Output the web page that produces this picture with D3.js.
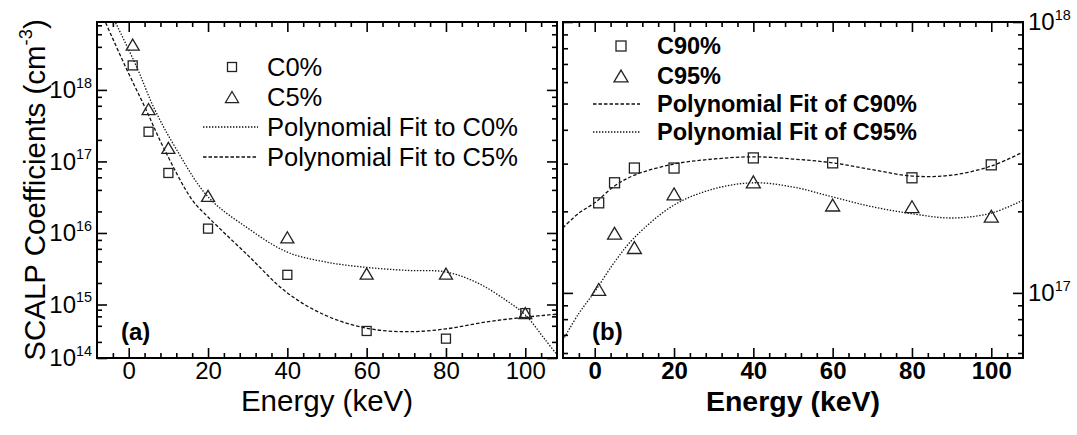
<!DOCTYPE html>
<html>
<head>
<meta charset="utf-8">
<script src="https://cdn.jsdelivr.net/npm/d3@7"></script>
<style>
  body { margin: 0; background: #fff; }
  svg text { font-family: "Liberation Sans", Arial, sans-serif; fill: #000; }
</style>
</head>
<body>
<script>
// ---- values ----
// panel (a)
var energyA = [1, 5, 10, 20, 40, 60, 80, 100];
var c0 = [2.2e18, 2.6e17, 6.9e16, 1.15e16, 2.6e15, 3.2e14, 2.3e14, 6.9e14];
var c5 = [4.3e18, 5.4e17, 1.55e17, 3.3e16, 8.7e15, 2.7e15, 2.7e15, 6.9e14];
// fit curves as drawn (legend names kept as in the figure)
var fitC0E = [-3.3, 2, 6.5, 11.8, 20, 30, 40, 50, 60, 70, 80, 88, 95, 100, 105, 108];
var fitC0V = [8.65e18, 2.1e18, 5.4e17, 1.55e17, 3.2e16, 1.17e16, 5.4e15, 3.9e15, 3.3e15, 3.0e15, 2.85e15, 2.0e15, 1.16e15, 6.4e14, 2.2e14, 1.15e14];
var fitC5E = [-5.8, -0.8, 4.3, 8.8, 16, 20, 30, 40, 50, 60, 70, 80, 90, 100, 108];
var fitC5V = [8.65e18, 2.1e18, 5.4e17, 1.55e17, 2.9e16, 1.67e16, 4.9e15, 1.45e15, 6.1e14, 3.6e14, 3.1e14, 3.5e14, 4.7e14, 5.8e14, 6.6e14];

// panel (b)
var energyB = [1, 5, 10, 20, 40, 60, 80, 100];
var c90 = [2.15e17, 2.55e17, 2.89e17, 2.89e17, 3.15e17, 3.02e17, 2.66e17, 2.97e17];
var c95 = [1.03e17, 1.66e17, 1.47e17, 2.32e17, 2.57e17, 2.11e17, 2.08e17, 1.92e17];
var fitBE = [-8, -4, 0, 5, 10, 20, 30, 40, 50, 60, 70, 80, 90, 100, 108];
var fitC90V = [1.74e17, 1.97e17, 2.15e17, 2.48e17, 2.72e17, 2.99e17, 3.12e17, 3.18e17, 3.12e17, 3.02e17, 2.85e17, 2.70e17, 2.72e17, 2.94e17, 3.31e17];
var fitC95V = [6.7e16, 8.4e16, 1.01e17, 1.30e17, 1.60e17, 2.11e17, 2.42e17, 2.55e17, 2.46e17, 2.26e17, 2.08e17, 1.96e17, 1.89e17, 1.97e17, 2.20e17];

// ticks and labels
var xTicks = [0, 20, 40, 60, 80, 100];
var yTicksA = [1e14, 1e15, 1e16, 1e17, 1e18];
var yTicksB = [1e17, 1e18];
var legendA = ["C0%", "C5%", "Polynomial Fit to C0%", "Polynomial Fit to C5%"];
var legendB = ["C90%", "C95%", "Polynomial Fit of C90%", "Polynomial Fit of C95%"];

// ---- layout ----
var W = 1077, H = 435;
var plotTop = 22, plotBottom = 358;
var xDomain = [-8, 108];
var DOTTED = "1.4,1.6", DASHED = "3.5,2";

var svg = d3.select("body").append("svg")
  .attr("width", W)
  .attr("height", H);

// 10 with superscript exponent
function powerLabels(sel) {
  sel.each(function(d) {
    var t = d3.select(this).text("");
    t.append("tspan").text("10");
    t.append("tspan")
      .attr("dy", "-0.72em")
      .style("font-size", "0.6em")
      .text(Math.round(Math.log10(d)));
  });
}

function triangle(w, h) {
  return "M0," + (-h / 2) + "L" + (w / 2) + "," + (h / 2) + "L" + (-w / 2) + "," + (h / 2) + "Z";
}

function styleTicks(g) {
  g.select(".domain").remove();
  g.selectAll(".tick line").attr("stroke", "#000").attr("stroke-width", 1.6);
}

function drawPanel(p) {
  var g = svg.append("g");
  var x = d3.scaleLinear().domain(xDomain).range([p.left, p.right]);
  // the figure's lowest decade of panel (a) is drawn shorter than the others
  var y = d3.scaleLog().domain(p.yDomain).range(p.yRange);
  var weight = p.bold ? "bold" : "normal";

  svg.append("clipPath").attr("id", "clip-" + p.id)
    .append("rect")
    .attr("x", p.left).attr("y", plotTop)
    .attr("width", p.right - p.left).attr("height", plotBottom - plotTop);

  // fit curves
  var line = d3.line()
    .x(function(d) { return x(d[0]); })
    .y(function(d) { return y(d[1]); })
    .curve(d3.curveCatmullRom.alpha(0.5));

  p.fits.forEach(function(f) {
    g.append("path")
      .datum(d3.zip(f.e, f.v))
      .attr("clip-path", "url(#clip-" + p.id + ")")
      .attr("fill", "none")
      .attr("stroke", "#111")
      .attr("stroke-width", 1.3)
      .attr("stroke-dasharray", f.dash)
      .attr("d", line);
  });

  // markers
  g.selectAll(".sq")
    .data(d3.zip(p.energy, p.squares))
    .enter().append("rect")
    .attr("x", function(d) { return x(d[0]) - p.sq / 2; })
    .attr("y", function(d) { return y(d[1]) - p.sq / 2; })
    .attr("width", p.sq).attr("height", p.sq)
    .attr("fill", "none").attr("stroke", "#222").attr("stroke-width", 1.3);

  g.selectAll(".tri")
    .data(d3.zip(p.energy, p.triangles))
    .enter().append("path")
    .attr("d", triangle(p.tri, p.tri * 0.85))
    .attr("transform", function(d) { return "translate(" + x(d[0]) + "," + y(d[1]) + ")"; })
    .attr("fill", "none").attr("stroke", "#222").attr("stroke-width", 1.3);

  // x axes: major every 20, minor every 4, ticks pointing inward
  var minorX = d3.range(-4, 108, 4).filter(function(d) { return d % 20 !== 0; });

  var bx = g.append("g").attr("transform", "translate(0," + plotBottom + ")")
    .call(d3.axisBottom(x).tickValues(xTicks).tickSizeInner(-10).tickSizeOuter(0).tickPadding(4));
  bx.call(styleTicks);
  bx.selectAll("text").style("font-size", "24px").style("font-weight", weight);
  g.append("g").attr("transform", "translate(0," + plotBottom + ")")
    .call(d3.axisBottom(x).tickValues(minorX).tickSizeInner(-5).tickSizeOuter(0).tickFormat(""))
    .call(styleTicks);
  g.append("g").attr("transform", "translate(0," + plotTop + ")")
    .call(d3.axisTop(x).tickValues(xTicks).tickSizeInner(-10).tickSizeOuter(0).tickFormat(""))
    .call(styleTicks);
  g.append("g").attr("transform", "translate(0," + plotTop + ")")
    .call(d3.axisTop(x).tickValues(minorX).tickSizeInner(-5).tickSizeOuter(0).tickFormat(""))
    .call(styleTicks);

  // y axes (log)
  var lo = p.yDomain[0], hi = p.yDomain[p.yDomain.length - 1];
  var minorY = [];
  d3.range(13, 19).forEach(function(n) {
    p.minorSteps.forEach(function(m) { minorY.push(m * Math.pow(10, n)); });
  });
  minorY = minorY.filter(function(v) { return v > lo * 1.02 && v < hi; });

  var labelSide = p.labelRight ? "right" : "left";
  [["left", p.left, d3.axisLeft], ["right", p.right, d3.axisRight]].forEach(function(s) {
    var major = g.append("g").attr("transform", "translate(" + s[1] + ",0)")
      .call(s[2](y).tickValues(p.yTicks).tickSizeInner(-10).tickSizeOuter(0).tickPadding(5));
    major.call(styleTicks);
    if (s[0] === labelSide) {
      major.selectAll("text").style("font-size", "24px").call(powerLabels);
    } else {
      major.selectAll("text").remove();
    }
    g.append("g").attr("transform", "translate(" + s[1] + ",0)")
      .call(s[2](y).tickValues(minorY).tickSizeInner(-5).tickSizeOuter(0).tickFormat(""))
      .call(styleTicks);
  });

  // frame
  g.append("rect")
    .attr("x", p.left).attr("y", plotTop)
    .attr("width", p.right - p.left).attr("height", plotBottom - plotTop)
    .attr("fill", "none").attr("stroke", "#000").attr("stroke-width", 2);

  // axis title
  g.append("text")
    .attr("x", (p.left + p.right) / 2).attr("y", 411)
    .attr("text-anchor", "middle")
    .style("font-size", p.bold ? "28.5px" : "29.5px")
    .style("font-weight", weight)
    .text("Energy (keV)");

  // panel tag
  g.append("text")
    .attr("x", p.tagX).attr("y", 340)
    .style("font-size", "24px").style("font-weight", "bold")
    .text(p.tag);

  // legend
  var lg = g.append("g");
  var rows = p.legendRows;
  lg.append("rect")
    .attr("x", p.legMarkX - p.sq / 2).attr("y", rows[0] - p.sq / 2)
    .attr("width", p.sq).attr("height", p.sq)
    .attr("fill", "none").attr("stroke", "#222").attr("stroke-width", 1.3);
  lg.append("path")
    .attr("d", triangle(p.tri, p.tri * 0.85))
    .attr("transform", "translate(" + p.legMarkX + "," + rows[1] + ")")
    .attr("fill", "none").attr("stroke", "#222").attr("stroke-width", 1.3);
  [2, 3].forEach(function(i) {
    lg.append("line")
      .attr("x1", p.legLine[0]).attr("x2", p.legLine[1])
      .attr("y1", rows[i]).attr("y2", rows[i])
      .attr("stroke", "#111").attr("stroke-width", 1.3)
      .attr("stroke-dasharray", p.legDash[i - 2]);
  });
  lg.selectAll("text")
    .data(p.legend)
    .enter().append("text")
    .attr("x", p.legTextX)
    .attr("y", function(d, i) { return rows[i]; })
    .attr("dy", "0.36em")
    .style("font-size", p.legSize)
    .style("font-weight", weight)
    .text(function(d) { return d; });
}

drawPanel({
  id: "a", left: 97, right: 557,
  yDomain: [1e14, 1e15, 8.9e18], yRange: [plotBottom, 304.5, plotTop],
  yTicks: yTicksA, minorSteps: [2, 4, 6, 8],
  labelRight: false, bold: false,
  energy: energyA, squares: c0, triangles: c5, sq: 9, tri: 13,
  fits: [{e: fitC0E, v: fitC0V, dash: DOTTED}, {e: fitC5E, v: fitC5V, dash: DASHED}],
  tag: "(a)", tagX: 121,
  legend: legendA, legendRows: [67, 97, 127, 157],
  legMarkX: 232, legLine: [203, 258], legDash: [DOTTED, DASHED], legTextX: 267, legSize: "25.5px"
});

drawPanel({
  id: "b", left: 563, right: 1023,
  yDomain: [5.75e16, 1e18], yRange: [plotBottom, plotTop],
  yTicks: yTicksB, minorSteps: [2, 3, 4, 5, 6, 7, 8, 9],
  labelRight: true, bold: true,
  energy: energyB, squares: c90, triangles: c95, sq: 10, tri: 14,
  fits: [{e: fitBE, v: fitC90V, dash: DASHED}, {e: fitBE, v: fitC95V, dash: DOTTED}],
  tag: "(b)", tagX: 592,
  legend: legendB, legendRows: [46, 76, 104, 132],
  legMarkX: 621, legLine: [593, 640], legDash: [DASHED, DOTTED], legTextX: 657, legSize: "23.5px"
});

// y axis title of panel (a)
svg.append("text")
  .attr("transform", "translate(45,190) rotate(-90)")
  .attr("text-anchor", "middle")
  .style("font-size", "29.5px")
  .call(function(t) {
    t.append("tspan").text("SCALP Coefficients (cm");
    t.append("tspan").attr("dy", "-0.7em").style("font-size", "0.62em").text("-3");
    t.append("tspan").attr("dy", "0.43em").text(")");
  });
</script>
</body>
</html>
